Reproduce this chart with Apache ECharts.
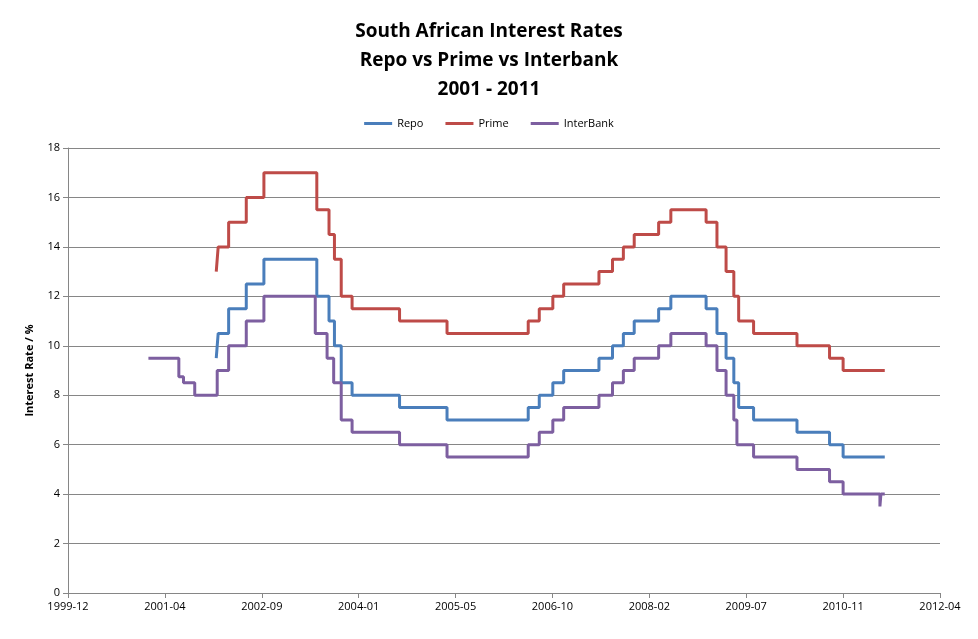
<!DOCTYPE html>
<html><head><meta charset="utf-8">
<script src="https://cdn.jsdelivr.net/npm/echarts@6/dist/echarts.min.js"></script>
<style>html,body{margin:0;padding:0;background:#fff}#c{width:978px;height:639px}</style>
</head><body><div id="c"></div>
<script>
// change points: [date, new rate], value holds until next point
var repoData = [
  ['2002-01-10',9.5],['2002-01-20',10.5],['2002-03-15',11.5],['2002-06-14',12.5],['2002-09-13',13.5],
  ['2003-06-13',12],['2003-08-15',11],['2003-09-12',10],['2003-10-17',8.5],['2003-12-12',8],
  ['2004-08-13',7.5],['2005-04-15',7],['2006-06-08',7.5],['2006-08-04',8],['2006-10-13',8.5],
  ['2006-12-08',9],['2007-06-08',9.5],['2007-08-17',10],['2007-10-12',10.5],['2007-12-07',11],
  ['2008-04-11',11.5],['2008-06-13',12],['2008-12-12',11.5],['2009-02-06',10.5],['2009-03-25',9.5],
  ['2009-05-04',8.5],['2009-05-29',7.5],['2009-08-14',7],['2010-03-26',6.5],['2010-09-10',6],
  ['2010-11-19',5.5],['2011-06-22',5.5]
];
var primeData = [
  ['2002-01-10',13],['2002-01-20',14],['2002-03-15',15],['2002-06-14',16],['2002-09-13',17],
  ['2003-06-13',15.5],['2003-08-15',14.5],['2003-09-12',13.5],['2003-10-17',12],['2003-12-12',11.5],
  ['2004-08-13',11],['2005-04-15',10.5],['2006-06-08',11],['2006-08-04',11.5],['2006-10-13',12],
  ['2006-12-08',12.5],['2007-06-08',13],['2007-08-17',13.5],['2007-10-12',14],['2007-12-07',14.5],
  ['2008-04-11',15],['2008-06-13',15.5],['2008-12-12',15],['2009-02-06',14],['2009-03-25',13],
  ['2009-05-04',12],['2009-05-29',11],['2009-08-14',10.5],['2010-03-26',10],['2010-09-10',9.5],
  ['2010-11-19',9],['2011-06-22',9]
];
var interbankData = [
  ['2001-01-25',9.5],['2001-07-01',8.75],['2001-07-25',8.5],['2001-09-21',8],
  ['2002-01-15',9],['2002-03-15',10],['2002-06-14',11],['2002-09-13',12],
  ['2003-06-05',10.5],['2003-08-05',9.5],['2003-09-08',8.5],['2003-10-17',7],['2003-12-12',6.5],
  ['2004-08-13',6],['2005-04-15',5.5],['2006-06-08',6],['2006-08-04',6.5],['2006-10-13',7],
  ['2006-12-08',7.5],['2007-06-08',8],['2007-08-17',8.5],['2007-10-12',9],['2007-12-07',9.5],
  ['2008-04-11',10],['2008-06-13',10.5],['2008-12-12',10],['2009-02-06',9],['2009-03-25',8],
  ['2009-05-04',7],['2009-05-20',6],['2009-08-14',5.5],['2010-03-26',5],['2010-09-10',4.5],
  ['2010-11-19',4],['2011-05-28',3.5],['2011-06-02',4],['2011-06-22',4]
];
var seriesNames = ['Repo','Prime','InterBank'];
var colors = ['#4A7EBB','#BE4B48','#7D5FA0'];

function toTs(arr){ return arr.map(function(p){ return [new Date(p[0]+'T00:00:00Z').getTime(), p[1]]; }); }
var DAY = 86400000;
var chart = echarts.init(document.getElementById('c'));
var all = [repoData, primeData, interbankData];
chart.setOption({
  animation:false,
  title:{text:'South African Interest Rates\nRepo vs Prime vs Interbank\n2001 - 2011',left:'center',top:12,
    textStyle:{fontFamily:'Open Sans',fontSize:19,fontWeight:'bold',color:'#000',lineHeight:29}},
  legend:{top:113,left:'center',itemWidth:28,itemHeight:3,icon:'rect',itemGap:22,
    textStyle:{fontFamily:'Open Sans',fontSize:11,color:'#000'},data:seriesNames},
  grid:{left:68,right:38,top:148,bottom:46},
  xAxis:{type:'value',min:Date.UTC(1999,11,7),max:Date.UTC(1999,11,7)+4500*DAY,interval:500*DAY,
    axisLine:{lineStyle:{color:'#868686'}},axisTick:{show:true,inside:false,length:5,lineStyle:{color:'#868686'}},
    splitLine:{show:false},
    axisLabel:{color:'#000',fontFamily:'Open Sans',fontSize:11,
      formatter:function(v){ return echarts.time.format(v,'{yyyy}-{MM}',true); }}},
  yAxis:{type:'value',min:0,max:18,interval:2,name:'Interest Rate / %',nameLocation:'middle',nameGap:33,
    nameTextStyle:{fontFamily:'Open Sans',fontSize:11,fontWeight:'bold',color:'#000'},
    axisLine:{show:true,lineStyle:{color:'#868686'}},axisTick:{show:true,length:5,lineStyle:{color:'#868686'}},
    splitLine:{lineStyle:{color:'#868686'}},
    axisLabel:{color:'#000',fontFamily:'Open Sans',fontSize:11}},
  series: all.map(function(d,i){ return {name:seriesNames[i],type:'line',step:'end',showSymbol:false,
    data:toTs(d),lineStyle:{width:3,color:colors[i]},itemStyle:{color:colors[i]}}; })
});
</script></body></html>
